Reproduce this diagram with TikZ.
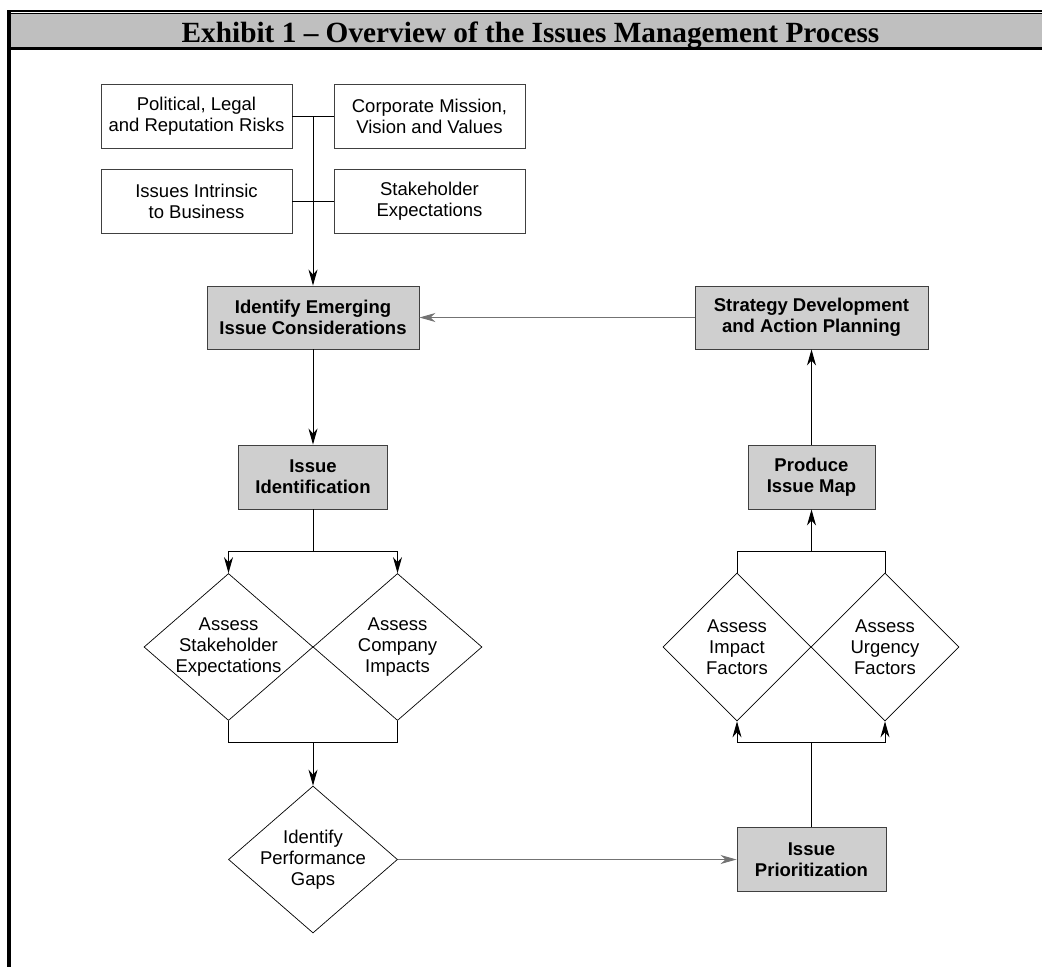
\documentclass[tikz,border=0pt]{standalone}
\usepackage{fontspec}
\setmainfont{Liberation Serif}
\setsansfont{Liberation Sans}
\usetikzlibrary{arrows.meta,shapes.geometric}

\definecolor{barfill}{gray}{0.75}
\definecolor{stagefill}{gray}{0.81}
\definecolor{edgegray}{gray}{0.25}
\definecolor{linkgray}{gray}{0.45}

\tikzset{
  source/.style={draw=edgegray, line width=0.9pt, minimum width=191pt, minimum height=64pt,
    inner sep=0pt, align=center, font=\sffamily\fontsize{18.5}{21}\selectfont},
  stage/.style={source, fill=stagefill, font=\sffamily\bfseries\fontsize{18.5}{21}\selectfont},
  choice/.style={draw, shape=diamond, line width=0.7pt, inner sep=0pt, minimum width=169pt, minimum height=147pt},
  choicetext/.style={align=center, inner sep=0pt, font=\sffamily\fontsize{18.5}{21}\selectfont},
  link/.style={line width=1pt},
  flow/.style={link, -{Stealth[length=16pt,width=9pt,inset=5pt]}},
  graylink/.style={draw=linkgray},
}

\begin{document}
\begin{tikzpicture}[x=1pt,y=-1pt]
			%%%%% START %%%%%
			\useasboundingbox (0,0) rectangle (1042,967);
			
			% frame and heading bar
			\fill[black] (7,9.7) rectangle (1042,11.7);
			\fill[black] (11,13) rectangle (1042,14);
			\fill[barfill] (11,14) rectangle (1042,47.3);
			\fill[black] (11,47.3) rectangle (1042,50);
			\fill[black] (7,9.7) rectangle (11,967);
			\node[anchor=base, font=\bfseries\fontsize{29.3}{32}\selectfont] (head) at (530.5,42) {Exhibit 1 – Overview of the Issues Management Process};
			
			% inputs
			\node[source] (pol) at (196.5,116) {Political, Legal\\and Reputation Risks};
			\node[source] (cor) at (429.5,116) {Corporate Mission,\\Vision and Values};
			\node[source] (intr) at (196.5,201) {Issues Intrinsic\\to Business};
			\node[source] (stk) at (429.5,201) {Stakeholder\\Expectations};
			
			% process stages
			\node[stage, minimum width=212pt, minimum height=63pt] (emg) at (313,317.5) {Identify Emerging\\Issue Considerations};
			\node[stage, minimum width=233pt, minimum height=63pt] (str) at (811.5,317.5) {Strategy Development\\and Action Planning};
			\node[stage, minimum width=149pt] (idn) at (313,477) {Issue\\Identification};
			\node[stage, minimum width=127pt] (map) at (811.5,477) {Produce\\Issue Map};
			\node[stage, minimum width=149pt] (pri) at (811.5,859.5) {Issue\\Prioritization};
			
			% assessments
			\node[choice, label={[choicetext]center:Assess\\Stakeholder\\Expectations}] (ase) at (228.5,647) {};
			\node[choice, label={[choicetext]center:Assess\\Company\\Impacts}] (aci) at (397.5,647) {};
			\node[choice, label={[choicetext]center:Identify\\Performance\\Gaps}] (gap) at (313,859.5) {};
			\node[choice, minimum width=148pt, minimum height=148pt, label={[choicetext]center:Assess\\Impact\\Factors}] (aim) at (737,647) {};
			\node[choice, minimum width=148pt, minimum height=148pt, label={[choicetext]center:Assess\\Urgency\\Factors}] (aur) at (885,647) {};
			
			\coordinate (split1) at (313,551);
			\coordinate (join1) at (313,742);
			\coordinate (split2) at (811.5,742);
			\coordinate (join2) at (811.5,551);
			
			% connectors
			\draw[link] (pol.east) -- (cor.west);
			\draw[link] (intr.east) -- (stk.west);
			\draw[flow] (pol.east -| emg.north) -- (emg.north);
			\draw[flow] (emg.south) -- (idn.north);
			\draw[flow, graylink] (str.west) -- (emg.east);
			
			\draw[link] (idn.south) -- (split1);
			\draw[flow] (split1) -| (ase.north);
			\draw[flow] (split1) -| (aci.north);
			\draw[link] (ase.south) |- (join1);
			\draw[link] (aci.south) |- (join1);
			\draw[flow] (join1) -- (gap.north);
			
			\draw[flow, graylink] (gap.east) -- (pri.west);
			
			\draw[link] (pri.north) -- (split2);
			\draw[flow] (split2) -| (aim.south);
			\draw[flow] (split2) -| (aur.south);
			\draw[link] (aim.north) |- (join2);
			\draw[link] (aur.north) |- (join2);
			\draw[flow] (join2) -- (map.south);
			\draw[flow] (map.north) -- (str.south);
			
			%%%%% END %%%%%
\end{tikzpicture}
\end{document}
